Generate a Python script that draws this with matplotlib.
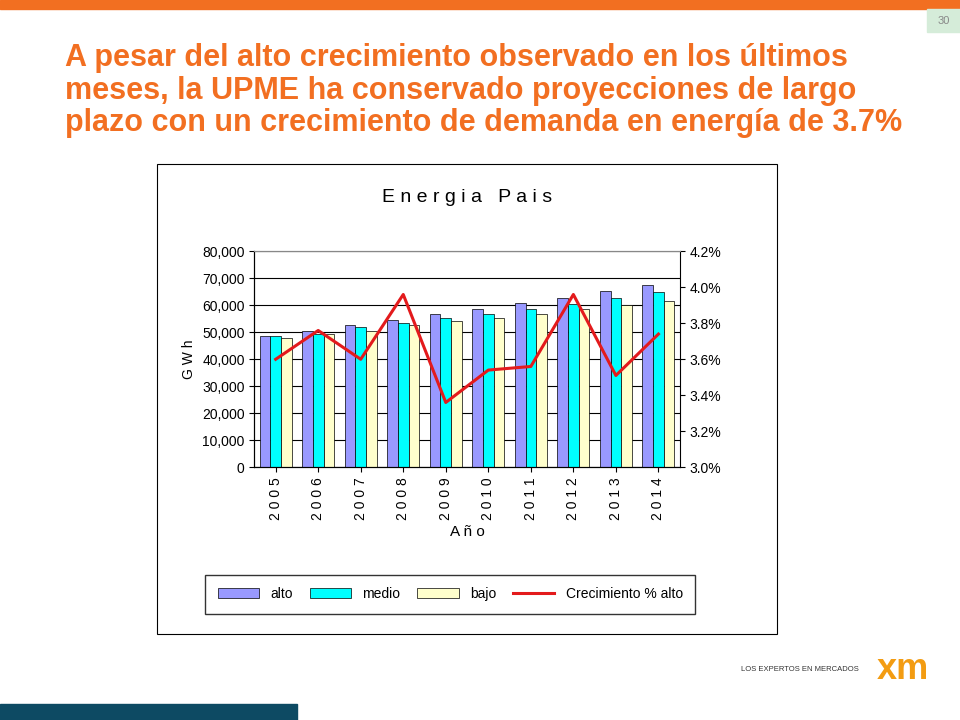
import matplotlib.pyplot as plt
import numpy as np

anios = ['2005', '2006', '2007', '2008', '2009', '2010', '2011', '2012', '2013', '2014']
alto = [48500, 50300, 52600, 54500, 56700, 58500, 60700, 62600, 65200, 67400]
medio = [48500, 49400, 51800, 53300, 55200, 56600, 58500, 60400, 62600, 64800]
bajo = [47700, 49400, 50300, 52600, 54000, 55200, 56600, 58500, 60000, 61500]
crec_alto = [3.60, 3.76, 3.60, 3.96, 3.36, 3.54, 3.56, 3.96, 3.51, 3.74]

plt.rcParams['font.family'] = 'Liberation Sans'

fig = plt.figure(figsize=(9.6, 7.2), dpi=100)
fig.patch.set_facecolor('white')

# slide decoration
fig.add_artist(plt.Rectangle((0, 0.988), 1, 0.012, color='#f26f21', transform=fig.transFigure))
fig.add_artist(plt.Rectangle((0.966, 0.956), 0.034, 0.032, color='#d5ecd9', transform=fig.transFigure))
fig.text(0.983, 0.971, '30', fontsize=8, color='#888888', ha='center', va='center')
fig.add_artist(plt.Rectangle((0, 0), 0.309, 0.022, color='#0d4a63', transform=fig.transFigure))
fig.text(0.068, 0.94, 'A pesar del alto crecimiento observado en los últimos\n'
         'meses, la UPME ha conservado proyecciones de largo\n'
         'plazo con un crecimiento de demanda en energía de 3.7%',
         fontsize=22, fontweight='bold', color='#f26f21', va='top', linespacing=1.1)
fig.text(0.895, 0.07, 'LOS EXPERTOS EN MERCADOS', fontsize=5.5, ha='right', va='center', color='#333333')
fig.text(0.94, 0.07, 'xm', fontsize=26, fontweight='bold', ha='center', va='center', color='#f39c12')

# chart frame
fig.add_artist(plt.Rectangle((0.164, 0.12), 0.645, 0.652, fill=False, ec='black', lw=0.8,
                             transform=fig.transFigure))
fig.text(0.487, 0.725, 'E n e r g i a   P a i s', fontsize=14, ha='center', va='center')

ax = fig.add_axes([0.265, 0.351, 0.443, 0.3])
x = np.arange(len(anios))
w = 0.25
ax.bar(x - w, alto, w, color='#9999ff', ec='black', lw=0.5, label='alto')
ax.bar(x, medio, w, color='#00ffff', ec='black', lw=0.5, label='medio')
ax.bar(x + w, bajo, w, color='#ffffcc', ec='black', lw=0.5, label='bajo')
ax.set_ylim(0, 80000)
ax.set_xlim(-0.5, len(anios) - 0.5)
ax.set_yticks(range(0, 80001, 10000))
ax.set_yticklabels(['0'] + ['{:,}'.format(v) for v in range(10000, 80001, 10000)], fontsize=10)
ax.yaxis.grid(True, color='black', lw=0.8)
ax.set_axisbelow(True)
ax.spines['top'].set_color('#888888')
ax.spines['right'].set_visible(False)
ax.set_xticks(x)
ax.set_xticklabels([' '.join(a) for a in anios], rotation=90, fontsize=10)
ax.set_ylabel('G W h', fontsize=10)
ax.set_xlabel('A ñ o', fontsize=11)

ax2 = ax.twinx()
ax2.plot(x, crec_alto, color='#e31a1c', lw=2.2, label='Crecimiento % alto')
ax2.set_ylim(3.0, 4.2)
ax2.set_yticks(np.arange(3.0, 4.21, 0.2))
ax2.set_yticklabels(['{:.1f}%'.format(v) for v in np.arange(3.0, 4.21, 0.2)], fontsize=10)
ax2.spines['top'].set_color('#888888')

h1, l1 = ax.get_legend_handles_labels()
h2, l2 = ax2.get_legend_handles_labels()
fig.legend(h1 + h2, l1 + l2, loc='center', bbox_to_anchor=(0.469, 0.175),
           ncol=4, fontsize=10, frameon=True, fancybox=False, edgecolor='black',
           handlelength=3, columnspacing=1.2, borderpad=0.9)

fig.savefig('out.png')
